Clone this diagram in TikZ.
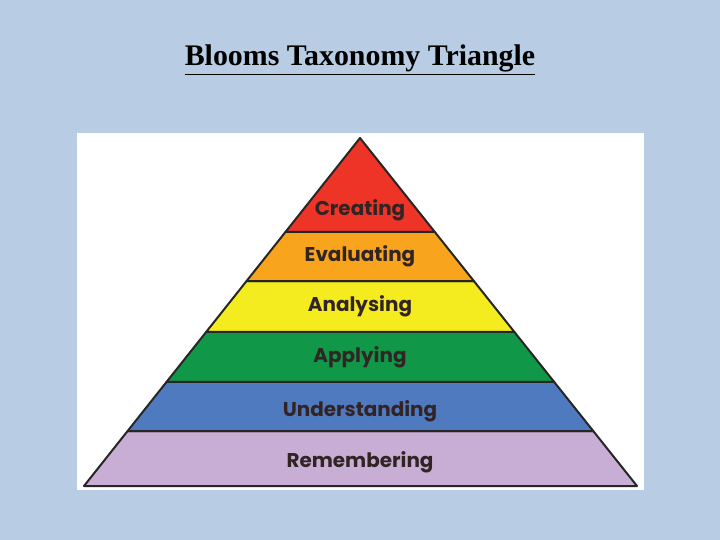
\documentclass[tikz,border=0pt]{standalone}
\usepackage{fontspec}
\setmainfont{Liberation Serif}
\newfontfamily\bandfont{Poppins}
\usetikzlibrary{calc}
\definecolor{pagebg}{RGB}{184, 204, 228}
\definecolor{creatred}{RGB}{238, 52, 38}
\definecolor{evalorange}{RGB}{248, 164, 28}
\definecolor{analyellow}{RGB}{244, 236, 30}
\definecolor{applygreen}{RGB}{16, 152, 72}
\definecolor{underblue}{RGB}{80, 122, 192}
\definecolor{remlilac}{RGB}{200, 174, 212}
\definecolor{labeldark}{RGB}{50, 36, 36}

\begin{document}
\begin{tikzpicture}[
          x=1bp, y=-1bp,
          band/.style={draw=black!85, line width=2bp, line join=round},
          lbl/.style={font=\bandfont\bfseries\fontsize{20}{20}\selectfont,
                      text=labeldark, anchor=base},
        ]
        \fill[pagebg] (0,0) rectangle (720,540);
        \useasboundingbox (0,0) rectangle (720,540);
        \node[font=\bfseries\fontsize{30}{30}\selectfont, anchor=base] (title) at (360,66)
             {\underline{Blooms Taxonomy Triangle}};
        \fill[white] (77,133) rectangle (644,490);
        \coordinate (apex) at (360,138);
        \coordinate (bl) at (84,486);
        \coordinate (br) at (637,486);
        % band edges along the two sides
        \coordinate (l1) at ($(apex)!0.270!(bl)$);
        \coordinate (r1) at ($(apex)!0.270!(br)$);
        \coordinate (l2) at ($(apex)!0.411!(bl)$);
        \coordinate (r2) at ($(apex)!0.411!(br)$);
        \coordinate (l3) at ($(apex)!0.557!(bl)$);
        \coordinate (r3) at ($(apex)!0.557!(br)$);
        \coordinate (l4) at ($(apex)!0.701!(bl)$);
        \coordinate (r4) at ($(apex)!0.701!(br)$);
        \coordinate (l5) at ($(apex)!0.842!(bl)$);
        \coordinate (r5) at ($(apex)!0.842!(br)$);
        \filldraw[band, fill=remlilac] (l5) -- (r5) -- (br) -- (bl) -- cycle;
        \filldraw[band, fill=underblue] (l4) -- (r4) -- (r5) -- (l5) -- cycle;
        \filldraw[band, fill=applygreen] (l3) -- (r3) -- (r4) -- (l4) -- cycle;
        \filldraw[band, fill=analyellow] (l2) -- (r2) -- (r3) -- (l3) -- cycle;
        \filldraw[band, fill=evalorange] (l1) -- (r1) -- (r2) -- (l2) -- cycle;
        \filldraw[band, fill=creatred] (apex) -- (r1) -- (l1) -- cycle;
        \node[lbl] (create) at (360,216) {Creating};
        \node[lbl] (evaluate) at (360,262) {Evaluating};
        \node[lbl] (analyse) at (360,311) {Analysing};
        \node[lbl] (apply) at (360,362) {Applying};
        \node[lbl] (understand) at (360,416) {Understanding};
        \node[lbl] (remember) at (360,467) {Remembering};
      \end{tikzpicture}
\end{document}
